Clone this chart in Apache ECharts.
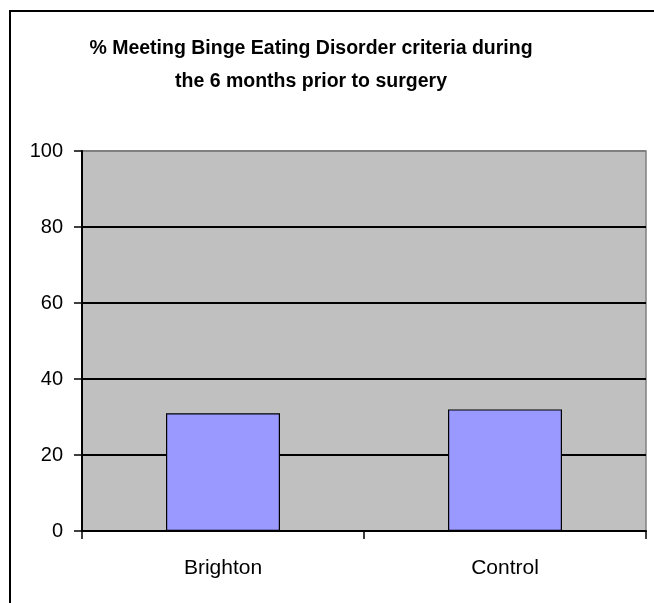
<!DOCTYPE html>
<html>
<head>
<meta charset="utf-8">
<script src="https://cdn.jsdelivr.net/npm/echarts@6/dist/echarts.min.js"></script>
<style>html,body{margin:0;padding:0;background:#fff}#c{width:654px;height:603px}</style>
</head>
<body>
<div id="c"></div>
<script>
const titleText = '% Meeting Binge Eating Disorder criteria during\nthe 6 months prior to surgery';
const categories = ['Brighton', 'Control'];
const percentMeeting = [31, 32];
const yTicks = [0, 20, 40, 60, 80, 100];

const chart = echarts.init(document.getElementById('c'), null, {renderer: 'canvas'});
const FONT = '"Liberation Sans", Arial, sans-serif';
chart.setOption({
  animation: false,
  backgroundColor: '#ffffff',
  graphic: [{
    type: 'rect', z: 0,
    shape: {x: 10, y: 11, width: 700, height: 700},
    style: {fill: 'none', stroke: '#000', lineWidth: 2}
  }],
  title: {
    text: titleText,
    left: 306, top: 27, textAlign: 'center',
    textStyle: {fontFamily: FONT, fontSize: 19.5, fontWeight: 'bold', color: '#000', lineHeight: 33}
  },
  grid: {
    left: 82, top: 151, width: 564, height: 380,
    show: true, backgroundColor: '#C0C0C0', borderColor: '#808080', borderWidth: 1.5
  },
  xAxis: {
    type: 'category', data: categories,
    axisLine: {lineStyle: {color: '#000', width: 2}},
    axisTick: {show: true, length: 8, lineStyle: {color: '#000', width: 1.5}},
    axisLabel: {fontFamily: FONT, fontSize: 21, color: '#000', margin: 27}
  },
  yAxis: {
    type: 'value', min: yTicks[0], max: yTicks[yTicks.length - 1], interval: 20,
    axisLine: {show: true, lineStyle: {color: '#000', width: 2}},
    axisTick: {show: true, length: 8, lineStyle: {color: '#000', width: 1.5}},
    axisLabel: {fontFamily: FONT, fontSize: 20, color: '#000', margin: 19},
    splitLine: {show: true, lineStyle: {color: ['#000', '#000', '#000', '#000', '#000', '#808080'], width: 1.8}}
  },
  series: [{
    type: 'bar', data: percentMeeting, barWidth: 114,
    itemStyle: {color: '#9999FF', borderColor: '#000', borderWidth: 1.2}
  }]
});
</script>
</body>
</html>
